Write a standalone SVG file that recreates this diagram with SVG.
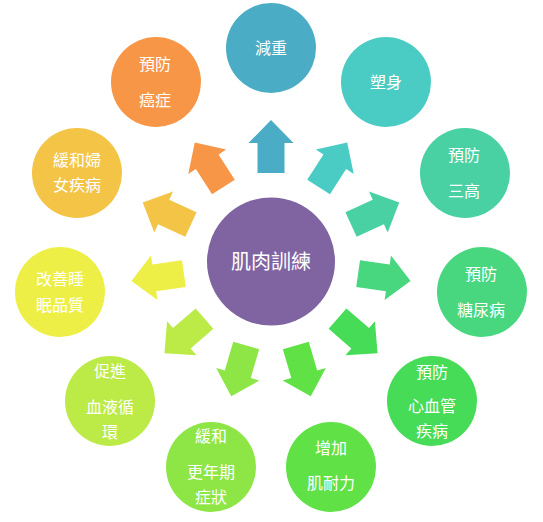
<svg xmlns="http://www.w3.org/2000/svg" width="543" height="522" viewBox="0 0 543 522">
<style>
text{font-family:"Noto Sans CJK TC","Noto Sans CJK SC",sans-serif;fill:#fff;text-anchor:middle;font-size:16px}
.c{font-size:20px}
</style>
<defs>
<path id="arr" d="M-13.5,-88 L-13.5,-118 L-22.5,-118 L0,-141 L22.5,-118 L13.5,-118 L13.5,-88 Z"/>
</defs>
<rect width="543" height="522" fill="#fff"/>
<g id="connectors">
<use href="#arr" fill="#4BACC6" transform="translate(271,261) rotate(0)"/>
<use href="#arr" fill="#4ACCC4" transform="translate(271,261) rotate(32.727)"/>
<use href="#arr" fill="#49D1A3" transform="translate(271,261) rotate(65.455)"/>
<use href="#arr" fill="#48D77F" transform="translate(271,261) rotate(98.182)"/>
<use href="#arr" fill="#47DC57" transform="translate(271,261) rotate(130.909)"/>
<use href="#arr" fill="#60E146" transform="translate(271,261) rotate(163.636)"/>
<use href="#arr" fill="#8DE646" transform="translate(271,261) rotate(196.364)"/>
<use href="#arr" fill="#BCEA46" transform="translate(271,261) rotate(229.091)"/>
<use href="#arr" fill="#EEEF46" transform="translate(271,261) rotate(261.818)"/>
<use href="#arr" fill="#F3C446" transform="translate(271,261) rotate(294.545)"/>
<use href="#arr" fill="#F79646" transform="translate(271,261) rotate(327.273)"/>
</g>
<g id="center">
<circle cx="271" cy="261.5" r="64" fill="#8064A2"/>
<text class="c" x="271" y="269">肌肉訓練</text>
</g>
<g id="n0">
<circle cx="271" cy="48" r="45" fill="#4BACC6"/>
<text x="271" y="54">減重</text>
</g>
<g id="n1">
<circle cx="386" cy="82" r="45" fill="#4ACCC4"/>
<text x="386" y="88">塑身</text>
</g>
<g id="n2">
<circle cx="465" cy="173" r="45" fill="#49D1A3"/>
<text x="464" y="161">預防</text>
<text x="464" y="197">三高</text>
</g>
<g id="n3">
<circle cx="482" cy="292" r="45" fill="#48D77F"/>
<text x="481" y="280">預防</text>
<text x="481" y="316">糖尿病</text>
</g>
<g id="n4">
<circle cx="432" cy="401" r="45" fill="#47DC57"/>
<text x="432" y="378">預防</text>
<text x="432" y="412">心血管</text>
<text x="432" y="437">疾病</text>
</g>
<g id="n5">
<circle cx="331" cy="467" r="45" fill="#60E146"/>
<text x="331" y="454">增加</text>
<text x="331" y="489">肌耐力</text>
</g>
<g id="n6">
<circle cx="211" cy="467" r="45" fill="#8DE646"/>
<text x="211" y="442">緩和</text>
<text x="211" y="478">更年期</text>
<text x="211" y="503">症狀</text>
</g>
<g id="n7">
<circle cx="110" cy="401" r="45" fill="#BCEA46"/>
<text x="110" y="377">促進</text>
<text x="110" y="413">血液循</text>
<text x="110" y="438">環</text>
</g>
<g id="n8">
<circle cx="60" cy="292" r="45" fill="#EEEF46"/>
<text x="60" y="285">改善睡</text>
<text x="60" y="311">眠品質</text>
</g>
<g id="n9">
<circle cx="77" cy="173" r="45" fill="#F3C446"/>
<text x="77" y="166">緩和婦</text>
<text x="77" y="191">女疾病</text>
</g>
<g id="n10">
<circle cx="156" cy="82" r="45" fill="#F79646"/>
<text x="155" y="70">預防</text>
<text x="155" y="106">癌症</text>
</g>
</svg>
